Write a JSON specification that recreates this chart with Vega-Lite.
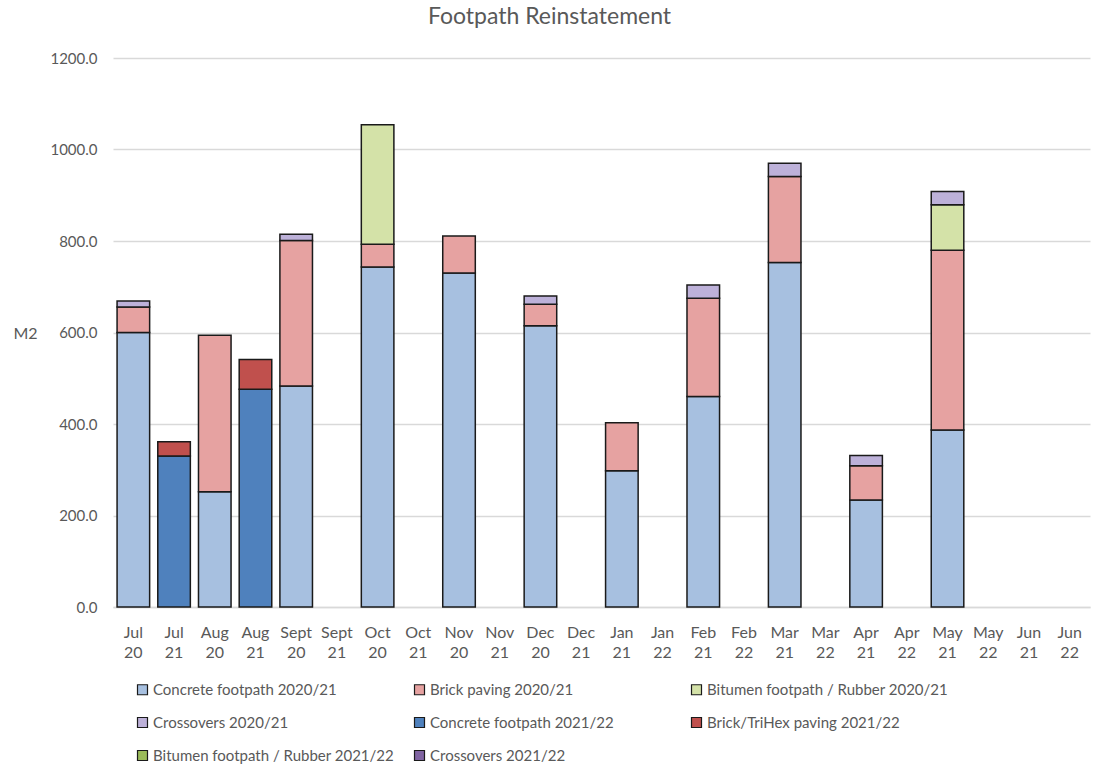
{
  "$schema": "https://vega.github.io/schema/vega-lite/v6.json",
  "autosize": "none",
  "width": 977,
  "height": 549,
  "padding": {"left": 113, "top": 58, "right": 6, "bottom": 168},
  "background": "white",
  "title": {
    "text": "Footpath Reinstatement",
    "fontSize": 23,
    "font": "Lato",
    "fontWeight": "normal",
    "color": "#595959",
    "anchor": "middle",
    "dx": -52,
    "offset": 22
  },
  "config": {
    "font": "Lato",
    "view": {"stroke": null}
  },
  "data": {
    "values": [
      {"period": "Jul 20", "series": "Concrete footpath 2020/21", "m2": 600},
      {"period": "Jul 20", "series": "Brick paving 2020/21", "m2": 56},
      {"period": "Jul 20", "series": "Crossovers 2020/21", "m2": 13},
      {"period": "Jul 21", "series": "Concrete footpath 2021/22", "m2": 330},
      {"period": "Jul 21", "series": "Brick/TriHex paving 2021/22", "m2": 31},
      {"period": "Aug 20", "series": "Concrete footpath 2020/21", "m2": 252},
      {"period": "Aug 20", "series": "Brick paving 2020/21", "m2": 342},
      {"period": "Aug 21", "series": "Concrete footpath 2021/22", "m2": 476},
      {"period": "Aug 21", "series": "Brick/TriHex paving 2021/22", "m2": 65},
      {"period": "Sept 20", "series": "Concrete footpath 2020/21", "m2": 483},
      {"period": "Sept 20", "series": "Brick paving 2020/21", "m2": 318},
      {"period": "Sept 20", "series": "Crossovers 2020/21", "m2": 14},
      {"period": "Oct 20", "series": "Concrete footpath 2020/21", "m2": 743},
      {"period": "Oct 20", "series": "Brick paving 2020/21", "m2": 50},
      {"period": "Oct 20", "series": "Bitumen footpath / Rubber 2020/21", "m2": 261},
      {"period": "Nov 20", "series": "Concrete footpath 2020/21", "m2": 730},
      {"period": "Nov 20", "series": "Brick paving 2020/21", "m2": 81},
      {"period": "Dec 20", "series": "Concrete footpath 2020/21", "m2": 615},
      {"period": "Dec 20", "series": "Brick paving 2020/21", "m2": 47},
      {"period": "Dec 20", "series": "Crossovers 2020/21", "m2": 18},
      {"period": "Jan 21", "series": "Concrete footpath 2020/21", "m2": 298},
      {"period": "Jan 21", "series": "Brick paving 2020/21", "m2": 105},
      {"period": "Feb 21", "series": "Concrete footpath 2020/21", "m2": 460},
      {"period": "Feb 21", "series": "Brick paving 2020/21", "m2": 215},
      {"period": "Feb 21", "series": "Crossovers 2020/21", "m2": 29},
      {"period": "Mar 21", "series": "Concrete footpath 2020/21", "m2": 753},
      {"period": "Mar 21", "series": "Brick paving 2020/21", "m2": 188},
      {"period": "Mar 21", "series": "Crossovers 2020/21", "m2": 29},
      {"period": "Apr 21", "series": "Concrete footpath 2020/21", "m2": 234},
      {"period": "Apr 21", "series": "Brick paving 2020/21", "m2": 75},
      {"period": "Apr 21", "series": "Crossovers 2020/21", "m2": 22},
      {"period": "May 21", "series": "Concrete footpath 2020/21", "m2": 387},
      {"period": "May 21", "series": "Brick paving 2020/21", "m2": 393},
      {"period": "May 21", "series": "Bitumen footpath / Rubber 2020/21", "m2": 99},
      {"period": "May 21", "series": "Crossovers 2020/21", "m2": 29}
    ]
  },
  "transform": [
    {
      "calculate": "indexof(['Concrete footpath 2020/21', 'Brick paving 2020/21', 'Bitumen footpath / Rubber 2020/21', 'Crossovers 2020/21', 'Concrete footpath 2021/22', 'Brick/TriHex paving 2021/22', 'Bitumen footpath / Rubber 2021/22', 'Crossovers 2021/22'], datum.series)",
      "as": "stack_rank"
    }
  ],
  "mark": {"type": "bar", "stroke": "#1a1a1a", "strokeWidth": 1.5},
  "encoding": {
    "x": {
      "field": "period",
      "type": "nominal",
      "sort": null,
      "scale": {
        "domain": ["Jul 20", "Jul 21", "Aug 20", "Aug 21", "Sept 20", "Sept 21", "Oct 20", "Oct 21", "Nov 20", "Nov 21", "Dec 20", "Dec 21", "Jan 21", "Jan 22", "Feb 21", "Feb 22", "Mar 21", "Mar 22", "Apr 21", "Apr 22", "May 21", "May 22", "Jun 21", "Jun 22"],
        "paddingInner": 0.2,
        "paddingOuter": 0.1
      },
      "axis": {
        "title": null,
        "labelAngle": 0,
        "labelExpr": "split(datum.value, ' ')",
        "labelFontSize": 16,
        "labelColor": "#595959",
        "labelLineHeight": 20,
        "labelPadding": 17,
        "ticks": false,
        "domainColor": "#d9d9d9",
        "domainWidth": 1.5
      }
    },
    "y": {
      "field": "m2",
      "type": "quantitative",
      "stack": "zero",
      "scale": {"domain": [0, 1200], "nice": false},
      "axis": {
        "title": "M2",
        "titleAngle": 0,
        "titleX": -88,
        "titleY": 275,
        "titleAlign": "center",
        "titleBaseline": "middle",
        "titleFontSize": 16,
        "titleFontWeight": "normal",
        "titleColor": "#595959",
        "values": [0, 200, 400, 600, 800, 1000, 1200],
        "format": ".1f",
        "labelFontSize": 15,
        "labelColor": "#595959",
        "labelPadding": 16,
        "ticks": false,
        "domain": false,
        "gridColor": "#d9d9d9",
        "gridWidth": 1.5
      }
    },
    "order": {"field": "stack_rank", "type": "quantitative", "sort": "ascending"},
    "color": {
      "field": "series",
      "type": "nominal",
      "scale": {
        "domain": ["Concrete footpath 2020/21", "Brick paving 2020/21", "Bitumen footpath / Rubber 2020/21", "Crossovers 2020/21", "Concrete footpath 2021/22", "Brick/TriHex paving 2021/22", "Bitumen footpath / Rubber 2021/22", "Crossovers 2021/22"],
        "range": ["#a7c0e0", "#e6a2a1", "#d4e2a8", "#bdb1d9", "#4f81bd", "#c0504d", "#9bbb59", "#8064a2"]
      },
      "legend": {
        "title": null,
        "orient": "none",
        "legendX": 22,
        "legendY": 624,
        "direction": "horizontal",
        "columns": 3,
        "gridAlign": "all",
        "columnPadding": 17,
        "rowPadding": 17,
        "symbolType": "square",
        "symbolSize": 100,
        "symbolStrokeColor": "#1a1a1a",
        "symbolStrokeWidth": 1.2,
        "symbolOpacity": 1,
        "labelFontSize": 15,
        "labelColor": "#595959",
        "labelOffset": 3,
        "labelLimit": 400
      }
    }
  }
}
